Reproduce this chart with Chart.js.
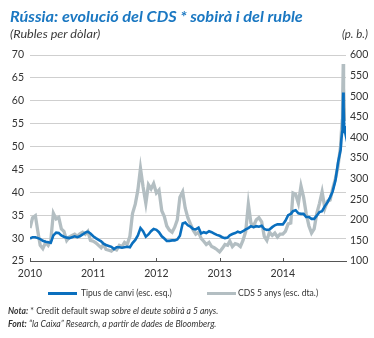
<!DOCTYPE html>
<html>
<head>
<meta charset="utf-8">
<script src="https://cdn.jsdelivr.net/npm/chart.js@4"></script>
<style>
  html, body { margin: 0; padding: 0; background: #fff; }
  #wrap { position: relative; width: 374px; height: 338px; overflow: hidden; font-family: Lato, sans-serif; }
  #wrap canvas { position: absolute; left: 0; top: 0; }
  .txt { position: absolute; white-space: nowrap; transform-origin: 0 50%; }
  #title { left: 10px; top: 6px; font-size: 16px; font-weight: bold; font-style: italic; color: #1b78c2; }
  #unitL { left: 10px; top: 27px; font-size: 11.5px; font-style: italic; color: #3a3a3a; }
  #unitR { right: 6px; top: 27px; font-size: 11.5px; font-style: italic; color: #3a3a3a; }
  .leg { top: 287px; font-size: 9.5px; color: #333; }
  .swatch { position: absolute; top: 292px; width: 29px; height: 3px; }
  .note { left: 8px; font-size: 9.5px; color: #333; }
  .note i { font-style: italic; }
</style>
</head>
<body>
<div id="wrap">
  <canvas id="chart" width="374" height="338"></canvas>
  <div class="txt" id="title" data-w="293">Rússia: evolució del CDS * sobirà i del ruble</div>
  <div class="txt" id="unitL" data-w="90">(Rubles per dòlar)</div>
  <div class="txt" id="unitR">(p. b.)</div>
  <div class="swatch" style="left:48px;background:#0a6fbe"></div>
  <div class="txt leg" style="left:81px" data-w="91">Tipus de canvi (esc. esq.)</div>
  <div class="swatch" style="left:207px;background:#b3bec2"></div>
  <div class="txt leg" style="left:238px" data-w="80">CDS 5 anys (esc. dta.)</div>
  <div class="txt note" style="top:305px" data-w="210"><b><i>Nota:</i></b> * Credit default swap <i>sobre el deute sobirà a 5 anys.</i></div>
  <div class="txt note" style="top:318px" data-w="208"><b><i>Font:</i></b> <i>“la Caixa” Research, a partir de dades de Bloomberg.</i></div>
</div>
<script>
// Half-monthly observations (1st and 16th) from Jan 2010 to Nov 2014, then December 2014 in detail
const decemberDays = ['2014-12-01', '2014-12-05', '2014-12-10', '2014-12-12', '2014-12-16',
                      '2014-12-18', '2014-12-22', '2014-12-26', '2014-12-31'];

// Ruble per dollar (left axis)
const rubleRate = [
  29.9, 30.2, 30.2, 30.0, 29.8, 29.4, 29.2, 29.1, 29.0, 30.6, 31.2, 31.1,
  30.6, 30.3, 30.1, 30.0, 30.2, 30.4, 30.2, 30.4, 30.8, 31.2, 31.4, 31.0,
  30.4, 30.0, 29.6, 29.3, 28.8, 28.5, 28.3, 28.1, 27.6, 28.0, 28.0, 27.9,
  28.0, 28.1, 28.0, 28.9, 29.6, 30.6, 32.2, 31.5, 30.3, 30.8, 31.5, 32.0,
  31.8, 31.3, 30.4, 29.9, 29.4, 29.4, 29.5, 29.5, 29.7, 30.5, 33.2, 33.4,
  32.8, 32.5, 32.0, 31.9, 32.3, 31.0, 31.3, 31.1, 31.5, 31.3, 31.0, 30.7,
  30.5, 30.2, 30.0, 30.1, 30.6, 30.9, 31.1, 31.4, 31.2, 31.5, 31.9, 32.2,
  32.6, 32.4, 32.6, 32.5, 32.7, 32.0, 31.8, 31.9, 32.4, 32.8, 33.0, 33.0,
  33.0, 33.8, 35.0, 35.3, 35.9, 36.1, 35.4, 35.3, 35.3, 34.6, 34.6, 34.2,
  34.2, 34.9, 35.7, 35.9, 37.0, 37.8, 38.9, 40.2, 42.6, 46.5,
  49.3, 51.5, 53.2, 54.8, 61.8, 58.5, 54.0, 53.3, 54.5
];

// 5-year sovereign CDS, basis points (right axis)
const cdsSpread = [
  180, 205, 210, 170, 138, 130, 145, 138, 150, 216, 202, 206,
  178, 172, 150, 158, 162, 165, 160, 166, 170, 165, 172, 150,
  148, 144, 138, 132, 140, 128, 126, 124, 130, 127, 138, 135,
  145, 140, 160, 215, 238, 272, 325, 280, 240, 285, 275, 288,
  265, 272, 222, 208, 185, 175, 170, 182, 200, 255, 268, 228,
  205, 190, 175, 165, 170, 155, 148, 140, 145, 135, 132, 128,
  122, 130, 140, 138, 148, 135, 142, 140, 135, 150, 172, 238,
  192, 185, 200, 205, 195, 160, 150, 170, 162, 168, 158, 165,
  165, 172, 190, 192, 265, 262, 240, 282, 255, 215, 185, 168,
  178, 215, 240, 268, 228, 245, 248, 275, 300, 330,
  380, 410, 440, 470, 578, 520, 470, 455, 440
];

const yearLabels = [2010, 2011, 2012, 2013, 2014];

function toYear(d) {
  const [y, m, day] = d.split('-').map(Number);
  const start = Date.UTC(y, 0, 1);
  const len = Date.UTC(y + 1, 0, 1) - start;
  return y + (Date.UTC(y, m - 1, day) - start) / len;
}

const dates = [];
for (let y = 2010; y <= 2014; y++) {
  for (let m = 1; m <= 12; m++) {
    if (y === 2014 && m === 12) break;
    const mm = String(m).padStart(2, '0');
    dates.push(`${y}-${mm}-01`, `${y}-${mm}-16`);
  }
}
dates.push(...decemberDays);
const xs = dates.map(toYear);

// stretch text blocks to their set widths
document.querySelectorAll('.txt[data-w]').forEach(el => {
  const w = +el.dataset.w;
  el.style.transform = `scaleX(${w / el.scrollWidth})`;
});

// small upward tick marks on the time axis
const yearTicks = {
  id: 'yearTicks',
  afterDraw(chart) {
    const { ctx, scales: { x }, chartArea } = chart;
    ctx.save();
    ctx.strokeStyle = '#555';
    ctx.lineWidth = 1;
    yearLabels.forEach(yr => {
      const px = Math.round(x.getPixelForValue(yr)) + 0.5;
      ctx.beginPath();
      ctx.moveTo(px, chartArea.bottom);
      ctx.lineTo(px, chartArea.bottom - 3);
      ctx.stroke();
    });
    ctx.restore();
  }
};

Chart.defaults.font.family = 'Lato, sans-serif';
Chart.defaults.color = '#333';

new Chart(document.getElementById('chart'), {
  type: 'line',
  data: {
    datasets: [
      {
        label: 'Tipus de canvi (esc. esq.)',
        data: xs.map((x, i) => ({ x, y: rubleRate[i] })),
        yAxisID: 'yL',
        borderColor: '#0a6fbe',
        borderWidth: 2.6,
        pointRadius: 0,
        tension: 0
      },
      {
        label: 'CDS 5 anys (esc. dta.)',
        data: xs.map((x, i) => ({ x, y: cdsSpread[i] })),
        yAxisID: 'yR',
        borderColor: '#b3bec2',
        borderWidth: 3.3,
        pointRadius: 0,
        tension: 0
      }
    ]
  },
  options: {
    responsive: false,
    animation: false,
    layout: { padding: { top: 55, left: 0, right: 0, bottom: 0 } },
    plugins: { legend: { display: false }, tooltip: { enabled: false } },
    scales: {
      x: {
        type: 'linear',
        min: 2010,
        max: 2015,
        afterFit: s => { s.height = 77; },
        afterBuildTicks: s => { s.ticks = yearLabels.map(v => ({ value: v })); },
        grid: { display: false, drawTicks: false },
        border: { display: true, color: '#555', width: 1 },
        ticks: { padding: 6, font: { size: 10.5 }, color: '#333', maxRotation: 0, callback: v => String(v) }
      },
      yL: {
        position: 'left',
        min: 25,
        max: 70,
        afterFit: s => { s.width = 30; },
        grid: {
          drawTicks: false,
          color: c => c.tick.value === 25 ? 'rgba(0,0,0,0)' : '#cfcfcf',
          lineWidth: 1
        },
        border: { display: false },
        ticks: { stepSize: 5, padding: 6, font: { size: 10.5 }, color: '#333' }
      },
      yR: {
        position: 'right',
        min: 100,
        max: 600,
        afterFit: s => { s.width = 28; },
        grid: { display: false, drawTicks: false },
        border: { display: false },
        ticks: { stepSize: 50, padding: 4, font: { size: 10.5 }, color: '#333' }
      }
    }
  },
  plugins: [yearTicks]
});
</script>
</body>
</html>
